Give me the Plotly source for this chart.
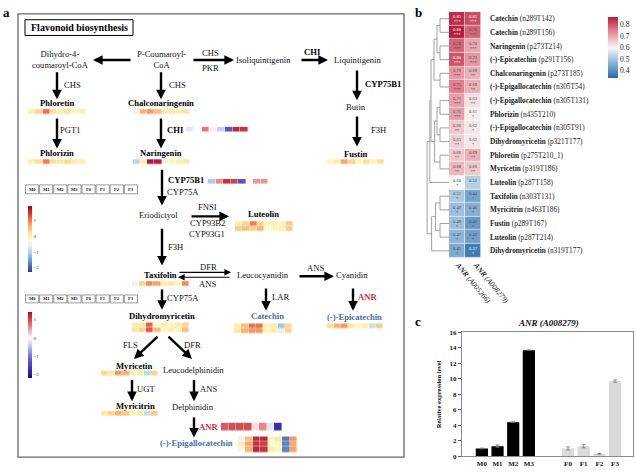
import plotly.graph_objects as go

W, H = 636, 472
SERIF = "Liberation Serif"

# ---------------- data ----------------
samples = ["M0", "M1", "M2", "M3", "F0", "F1", "F2", "F3"]

# pathway metabolite strips (z-scores, columns = samples)
phloretin = [[0.1, 0.4, 1.2, 0.3, 0.1, 0.2, 0.0, 0.1]]
chalconaringenin = [[-0.4, 0.7, 0.9, 0.6, 0.1, 0.2, 0.1, 0.2]]
phlorizin = [[0.1, 0.3, 1.1, 0.3, 0.2, 0.3, 0.1, 0.1]]
naringenin = [[-1.0, 0.1, 2.0, 1.9, -0.5, 0.0, 0.1, 0.2]]
fustin = [[0.0, 0.1, 0.8, 0.4, 0.0, 0.3, 0.0, 0.3]]
luteolin = [[0.1, 0.4, 1.1, 0.4, 0.0, 0.1, 0.0, 0.5],
            [0.5, 0.6, 0.4, 0.7, -0.3, 0.0, 0.1, 0.5]]
taxifolin = [[-0.5, 0.4, 1.0, 0.8, 0.1, 0.2, 0.0, 1.0]]
catechin = [[0.1, 0.6, 1.2, 1.2, 0.0, 0.1, -1.2, 0.4],
            [0.2, 0.7, 0.9, 0.9, 0.0, 0.1, -0.6, 0.4]]
epicatechin = [[0.3, 0.7, 0.9, 0.2, 0.0, 0.1, -0.9, 0.5]]
dihydromyricetin = [[0.2, 0.2, 1.3, -0.3, 0.1, 0.0, 0.1, 0.4],
                    [0.2, 0.4, 1.4, 0.6, 0.0, 0.1, 0.0, 0.6]]
myricetin = [[0.4, 0.2, 0.9, 0.7, 0.0, 0.1, -1.0, 0.4]]
myricitrin = [[0.2, 0.4, 0.7, 0.5, 0.0, 0.1, -0.9, 0.5]]
epigallocatechin = [[-0.5, 0.6, 1.8, 1.8, 0.0, 0.2, -1.9, 0.9],
                    [0.1, 0.8, 1.7, 1.6, -0.3, 0.0, -1.8, 0.8],
                    [-0.4, 0.7, 1.8, 1.7, 0.1, 0.0, -1.8, 0.8]]
# gene strips
chi_gene = [[-0.2, 0.0, 0.8, 0.1, -0.4, -1.5, 1.4, 1.3]]
cyp75b1_gene = [[-0.5, 0.7, 1.3, 1.2, -1.5, 0.0, 0.6, 0.6]]
anr_gene = [[1.0, 1.1, 1.1, 1.1, 0.2, 0.7, -0.2, -2.0]]

# panel b correlation heatmap
metabolites = ["Catechin", "Catechin", "Naringenin", "(-)-Epicatechin", "Chalconaringenin",
               "(-)-Epigallocatechin", "(-)-Epigallocatechin", "Phlorizin", "(-)-Epigallocatechin",
               "Dihydromyricetin", "Phloretin", "Myricetin", "Luteolin", "Taxifolin", "Myricitrin",
               "Fustin", "Luteolin", "Dihydromyricetin"]
metabolite_ids = ["n289T142", "n289T156", "p273T214", "p291T156", "p273T185", "n305T54",
                  "n305T131", "n435T210", "n305T91", "p321T177", "p275T210_1", "p319T186",
                  "p287T158", "n303T131", "n463T186", "p289T167", "p287T214", "n319T177"]
corr_A005266 = [0.85, 0.88, 0.78, 0.80, 0.72, 0.75, 0.71, 0.71, 0.66, 0.65, 0.66, 0.68,
                0.60, 0.51, 0.49, 0.49, 0.47, 0.45]
corr_A008279 = [0.81, 0.78, 0.70, 0.72, 0.69, 0.69, 0.63, 0.61, 0.62, 0.62, 0.69, 0.66,
                0.52, 0.44, 0.46, 0.42, 0.43, 0.37]
stars_A005266 = ["***", "***", "***", "***", "***", "***", "***", "***", "**", "**", "**", "**",
                 "*", "*", "*", "*", "*", "*"]
stars_A008279 = ["***", "***", "***", "***", "**", "**", "**", "*", "*", "*", "**", "**",
                 "", "*", "*", "*", "*", "*"]
gene_columns = ["<b><i>ANR</i></b><i> (A005266)</i>", "<b><i>ANR</i></b><i> (A008279)</i>"]
# dendrogram linkage: (cluster a, cluster b, height); new clusters numbered from 18
linkage = [(0, 1, 3), (2, 3, 3), (18, 19, 4), (4, 5, 3), (20, 21, 5), (6, 7, 3), (8, 9, 3),
           (23, 24, 4), (10, 11, 3), (25, 26, 4.8), (22, 27, 6), (28, 12, 6.4), (13, 14, 3),
           (15, 16, 3), (30, 31, 4.5), (32, 17, 5.8), (29, 33, 7.3)]

# panel c bar chart
bar_labels = ["M0", "M1", "M2", "M3", "F0", "F1", "F2", "F3"]
bar_values = [1.0, 1.3, 4.4, 13.7, 1.0, 1.3, 0.3, 9.7]
bar_errors = [0.05, 0.15, 0.05, 0.05, 0.2, 0.2, 0.05, 0.15]

# ---------------- layout helpers ----------------
fig = go.Figure()

MET_CS = "RdYlBu_r"
MET_RANGE = (-2.25, 1.94)
GENE_CS = [[0, "#0c0c9c"], [0.3, "#6464dc"], [0.604, "#ffffff"], [0.85, "#e45454"], [1, "#b0101e"]]
GENE_RANGE = (-2.2, 1.44)

strip_layout = {  # left, top, width, height (pixels)
    "phloretin": (28, 107, 58, 5), "chalconaringenin": (133, 107, 57, 5),
    "chi_gene": (186, 125, 62, 5), "phlorizin": (28, 158, 58, 5),
    "naringenin": (133, 158, 57, 5), "fustin": (327, 158, 57, 5),
    "cyp75b1_gene": (208, 178, 60, 5), "luteolin": (235, 221, 58, 10),
    "taxifolin": (132, 282, 57, 5), "catechin": (234, 325, 58, 10),
    "epicatechin": (327, 325, 56, 5), "dihydromyricetin": (132, 324, 57, 10),
    "myricetin": (101, 373, 57, 5), "myricitrin": (101, 414, 57, 5),
    "anr_gene": (221, 426, 61, 8), "epigallocatechin": (238, 440, 59, 16),
}
strips = [("phloretin", phloretin, "m"), ("chalconaringenin", chalconaringenin, "m"),
          ("chi_gene", chi_gene, "g"), ("phlorizin", phlorizin, "m"),
          ("naringenin", naringenin, "m"), ("fustin", fustin, "m"),
          ("cyp75b1_gene", cyp75b1_gene, "g"), ("luteolin", luteolin, "m"),
          ("taxifolin", taxifolin, "m"), ("catechin", catechin, "m"),
          ("epicatechin", epicatechin, "m"), ("dihydromyricetin", dihydromyricetin, "m"),
          ("myricetin", myricetin, "m"), ("myricitrin", myricitrin, "m"),
          ("anr_gene", anr_gene, "g"), ("epigallocatechin", epigallocatechin, "m")]

cb_common = dict(thickness=4, thicknessmode="pixels", lenmode="fraction", len=67 / H,
                 x=28 / W, xanchor="left", yanchor="top", outlinewidth=0, ticks="",
                 xpad=0, ypad=0, tickvals=[1, 0, -1, -2],
                 tickfont=dict(size=5, family=SERIF, color="#333"))
shown = {"m": False, "g": False}
for name, z, kind in strips:
    x0, y0, w, h = strip_layout[name]
    cw = w / len(z[0])
    rh = h / len(z)
    show = not shown[kind]
    shown[kind] = True
    cb = dict(cb_common, y=1 - (205 if kind == "m" else 313) / H)
    fig.add_trace(go.Heatmap(
        z=z, x0=x0 + cw / 2, dx=cw, y0=y0 + rh / 2, dy=rh, xaxis="x", yaxis="y",
        colorscale=MET_CS if kind == "m" else GENE_CS,
        zmin=(MET_RANGE if kind == "m" else GENE_RANGE)[0],
        zmax=(MET_RANGE if kind == "m" else GENE_RANGE)[1],
        xgap=0.4, ygap=0.4, opacity=0.9, showscale=show, colorbar=cb, hoverinfo="skip"))

# ---------------- panel b ----------------
zb = [[a, b] for a, b in zip(corr_A005266, corr_A008279)]
tb = [[f"{a:.2f}<br>{sa}", f"{b:.2f}<br>{sb}"]
      for a, b, sa, sb in zip(corr_A005266, corr_A008279, stars_A005266, stars_A008279)]
nrows = len(metabolites)
fig.add_trace(go.Heatmap(
    z=zb, text=tb, texttemplate="%{text}", textfont=dict(size=4.5, family=SERIF),
    x=[0, 1], y=list(range(nrows)), xaxis="x2", yaxis="y2",
    colorscale=[[0, "#2c6aa8"], [0.25, "#8db5d8"], [0.494, "#f7f7f7"], [0.75, "#e58a98"], [1, "#b61f3c"]],
    zmin=0.338, zmax=0.868, xgap=0.6, ygap=0.6, hoverinfo="skip",
    colorbar=dict(x=608 / W, xanchor="left", y=1 - 13 / H, yanchor="top", len=62 / H,
                  lenmode="fraction", thickness=10, outlinewidth=0, ticks="", xpad=0, ypad=0,
                  tickvals=[0.4, 0.5, 0.6, 0.7, 0.8],
                  tickfont=dict(size=7.5, family=SERIF, color="#222"))))

HM_TOP, HM_BOT, HM_LEFT = 8, 258, 449
rowh = (HM_BOT - HM_TOP) / nrows
leaf_y = [HM_TOP + (i + 0.5) * rowh for i in range(nrows)]
pos = {i: (HM_LEFT, leaf_y[i]) for i in range(nrows)}
dx_, dy_ = [], []
nid = nrows
for a, b, hgt in linkage:
    xa, ya = pos[a]
    xb, yb = pos[b]
    xh = HM_LEFT - 3 * hgt
    dx_ += [xa, xh, xh, xb, None]
    dy_ += [ya, ya, yb, yb, None]
    pos[nid] = (xh, (ya + yb) / 2)
    nid += 1
fig.add_trace(go.Scatter(x=dx_, y=dy_, mode="lines", xaxis="x", yaxis="y",
                         line=dict(color="#8a8a8a", width=0.8), hoverinfo="skip", showlegend=False))

annotations = []
for i, (nm, mid) in enumerate(zip(metabolites, metabolite_ids)):
    annotations.append(dict(x=488, y=leaf_y[i], xref="x", yref="y", xanchor="left",
                            text=f"<b>{nm}</b> ({mid})", showarrow=False,
                            font=dict(size=7.3, family=SERIF, color="#222")))
for cx, lab in zip([473, 491], gene_columns):
    annotations.append(dict(x=cx, y=283, xref="x", yref="y", text=lab, textangle=50,
                            showarrow=False, font=dict(size=7.5, family=SERIF, color="#222")))

# ---------------- panel c ----------------
x_pos = [i + (1.5 if s.startswith("F") else 0) for i, s in enumerate(bar_labels)]
fig.add_trace(go.Bar(
    x=x_pos, y=bar_values, width=0.78, xaxis="x3", yaxis="y3",
    marker=dict(color=["#000000" if s.startswith("M") else "#d9d9d9" for s in bar_labels],
                line=dict(width=0)),
    error_y=dict(type="data", array=bar_errors, color="#777777", thickness=0.8, width=2),
    hoverinfo="skip", showlegend=False))

annotations.append(dict(x=548, y=324, xref="x", yref="y", text="<b><i>ANR (A008279)</i></b>",
                        showarrow=False, font=dict(size=9, family=SERIF, color="#111")))
annotations.append(dict(x=438, y=397, xref="x", yref="y", text="<b>Relative expression level</b>",
                        textangle=-90, showarrow=False, font=dict(size=6.5, family=SERIF, color="#111")))

# ---------------- panel a texts ----------------
N, B, BL, RD = "n", "b", "blue", "red"
labels_a = [
    ("Dihydro-4-<br>coumaroyl-CoA", 60, 56, N), ("P-Coumaroyl-<br>CoA", 161, 56, N),
    ("CHS", 210, 50, N), ("PKR", 210, 65, N), ("Isoliquintigenin", 263, 57, N),
    ("CHI", 312, 49, B), ("Liquintigenin", 357, 57, N), ("CYP75B1", 383, 81, B),
    ("Butin", 356, 105, N), ("F3H", 378, 128, N), ("Fustin", 356, 153, B),
    ("CHS", 72, 82, N), ("Phloretin", 57, 101, B), ("PGT1", 70, 128, N),
    ("Phlorizin", 57, 152, B), ("CHS", 177, 82, N), ("Chalconaringenin", 161, 101, B),
    ("CHI", 175, 128, B), ("Naringenin", 161, 152, B), ("CYP75B1", 186, 179, B),
    ("CYP75A", 183, 191, N), ("Eriodictyol", 158, 215, N), ("FNSI", 207, 207, N),
    ("CYP93B2", 207, 223, N), ("CYP93G1", 207, 234, N), ("Luteolin", 263, 214, B),
    ("F3H", 175, 247, N), ("Taxifolin", 160, 276, B), ("DFR", 208, 268, N),
    ("ANS", 207, 285, N), ("Leucocyanidin", 263, 276, N), ("ANS", 315, 269, N),
    ("Cyanidin", 352, 276, N), ("LAR", 280, 298, N), ("ANR", 367, 298, RD),
    ("Catechin", 267, 317, BL), ("(-)-Epicatechin", 354, 318, BL), ("CYP75A", 183, 299, N),
    ("Dihydromyricetin", 162, 317, B), ("FLS", 130, 347, N), ("DFR", 192, 347, N),
    ("Myricetin", 134, 368, B), ("Leucodelphinidin", 193, 372, N), ("UGT", 146, 392, N),
    ("Myricitrin", 135, 409, B), ("ANS", 208, 392, N), ("Delphinidin", 193, 410, N),
    ("ANR", 208, 430, RD), ("(-)-Epigallocatechin", 196, 447, BL),
]
for txt, x, y, st in labels_a:
    col = {"n": "#111", "b": "#000", "blue": "#4a6ea6", "red": "#d0303c"}[st]
    t = txt if st == "n" else f"<b>{txt}</b>"
    annotations.append(dict(x=x, y=y, xref="x", yref="y", text=t, showarrow=False,
                            font=dict(size=8.6, family=SERIF, color=col)))

arrows_a = [  # tail x, tail y, head x, head y
    (132, 57, 93, 57), (192, 57, 234, 57), (300, 57, 328, 57), (357, 66, 357, 98),
    (357, 113, 357, 145), (57, 68, 57, 97), (57, 115, 57, 147), (161, 68, 161, 97),
    (161, 115, 161, 147), (162, 167, 162, 205), (190, 216, 229, 216), (162, 227, 162, 266),
    (298, 277, 334, 277), (266, 288, 266, 312), (353, 288, 353, 312), (162, 289, 162, 311),
    (159, 337, 134, 361), (167, 337, 192, 361), (132, 381, 132, 404), (194, 381, 194, 404),
    (194, 419, 194, 441),
]
for tx, ty, hx, hy in arrows_a:
    annotations.append(dict(x=hx, y=hy, ax=tx, ay=ty, xref="x", yref="y", axref="x", ayref="y",
                            text="", showarrow=True, arrowhead=2, arrowsize=0.8, arrowwidth=2.4,
                            arrowcolor="#000", standoff=0, startstandoff=0))
for tx, ty, hx, hy in [(178, 273, 231, 273), (231, 278, 178, 278)]:
    annotations.append(dict(x=hx, y=hy, ax=tx, ay=ty, xref="x", yref="y", axref="x", ayref="y",
                            text="", showarrow=True, arrowhead=2, arrowsize=1.2, arrowwidth=1.1,
                            arrowcolor="#000", standoff=0, startstandoff=0))

annotations.append(dict(x=79, y=24, xref="x", yref="y", text="<b>Flavonoid biosynthesis</b>",
                        showarrow=False, font=dict(size=10, family=SERIF, color="#000")))
for lab, x, y in [("a", 6, 9), ("b", 418, 9), ("c", 418, 323)]:
    annotations.append(dict(x=x, y=y, xref="x", yref="y", text=f"<b>{lab}</b>", showarrow=False,
                            font=dict(size=13, family=SERIF, color="#000")))

shapes = [
    dict(type="rect", xref="x", yref="y", x0=18, y0=10, x1=404, y1=461,
         line=dict(color="#666", width=1.3)),
    dict(type="rect", xref="x", yref="y", x0=25, y0=16, x1=133, y1=32,
         line=dict(color="#000", width=1)),
]
# sample legend boxes
for (lx, ly, lw, lh) in [(25, 184, 113, 9), (25, 296, 113, 8)]:
    cw = lw / len(samples)
    for i, s in enumerate(samples):
        shapes.append(dict(type="rect", xref="x", yref="y", x0=lx + i * cw + 0.5, y0=ly,
                           x1=lx + (i + 1) * cw - 0.5, y1=ly + lh,
                           line=dict(color="#555", width=0.6)))
        annotations.append(dict(x=lx + (i + 0.5) * cw, y=ly + lh / 2, xref="x", yref="y",
                                text=f"<b>{s}</b>", showarrow=False,
                                font=dict(size=4.6, family=SERIF, color="#222")))

fig.update_layout(
    width=W, height=H, margin=dict(l=0, r=0, t=0, b=0),
    paper_bgcolor="white", plot_bgcolor="rgba(0,0,0,0)", showlegend=False,
    xaxis=dict(domain=[0, 1], range=[0, W], visible=False, fixedrange=True),
    yaxis=dict(domain=[0, 1], range=[H, 0], visible=False, fixedrange=True),
    xaxis2=dict(domain=[HM_LEFT / W, 481 / W], anchor="y2", range=[-0.5, 1.5], visible=False),
    yaxis2=dict(domain=[1 - HM_BOT / H, 1 - HM_TOP / H], anchor="x2",
                range=[nrows - 0.5, -0.5], visible=False),
    xaxis3=dict(domain=[462 / W, 633 / W], anchor="y3", range=[-1.27, 9.65],
                tickvals=x_pos, ticktext=[f"<b>{s}</b>" for s in bar_labels], ticks="",
                showline=True, mirror=True, linecolor="#8a8a8a", linewidth=1,
                showgrid=False, zeroline=False, tickfont=dict(size=7, family=SERIF, color="#111")),
    yaxis3=dict(domain=[1 - 460 / H, 1 - 334 / H], anchor="x3", range=[0, 16],
                tickvals=list(range(0, 17, 2)), ticktext=[f"<b>{v}</b>" for v in range(0, 17, 2)],
                ticks="outside", ticklen=3, tickcolor="#555", showline=True, mirror=True,
                linecolor="#8a8a8a", linewidth=1, showgrid=False, zeroline=False,
                tickfont=dict(size=7, family=SERIF, color="#111")),
    annotations=annotations, shapes=shapes,
)

fig.write_html("out.html", config={"displayModeBar": False},
               post_script="document.body.style.margin='0px';")
